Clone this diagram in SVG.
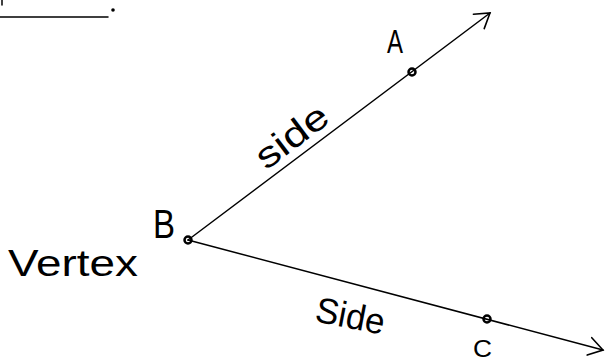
<svg xmlns="http://www.w3.org/2000/svg" width="605" height="364" viewBox="0 0 605 364">
  <style>
    .ln { stroke:#000; stroke-width:1.5; fill:none; stroke-linecap:round; }
    .pt { stroke:#000; stroke-width:2.5; fill:none; }
    .t { font-family:"Liberation Sans", Arial, sans-serif; fill:#000; }
  </style>
  <defs>
    <marker id="arr" markerUnits="userSpaceOnUse" markerWidth="40" markerHeight="40" viewBox="0 0 40 40" refX="20" refY="20" orient="auto">
      <path d="M6,11 L20,20 L6,29" fill="none" stroke="#000" stroke-width="1.6" stroke-linecap="round"/>
    </marker>
  </defs>
  <rect width="605" height="364" fill="#fff"/>

  <g id="header-fragment">
    <line class="ln" x1="0" y1="17" x2="108" y2="17"/>
    <line class="ln" x1="2" y1="0" x2="2" y2="5"/>
    <circle cx="113" cy="10" r="1.8" fill="#000"/>
  </g>

  <g id="connectors">
    <line id="ray-BA" class="ln" x1="188" y1="240" x2="490" y2="13" marker-end="url(#arr)"/>
    <line id="ray-BC" class="ln" x1="188" y1="240" x2="603" y2="350" marker-end="url(#arr)"/>
    <text class="t" font-size="36" text-anchor="middle" textLength="82" lengthAdjust="spacingAndGlyphs" transform="translate(299,146) rotate(-37)">side</text>
    <text class="t" font-size="36" text-anchor="middle" textLength="70" lengthAdjust="spacingAndGlyphs" transform="translate(348,328) rotate(11)">Side</text>
  </g>

  <g id="node-B">
    <circle class="pt" cx="188" cy="240" r="3.5"/>
    <text class="t" x="153" y="238" font-size="40" textLength="22" lengthAdjust="spacingAndGlyphs">B</text>
    <text class="t" x="8" y="276" font-size="36" textLength="130" lengthAdjust="spacingAndGlyphs">Vertex</text>
  </g>

  <g id="node-A">
    <circle class="pt" cx="412" cy="72" r="3.5"/>
    <text class="t" x="387" y="53" font-size="34" textLength="16" lengthAdjust="spacingAndGlyphs">A</text>
  </g>

  <g id="node-C">
    <circle class="pt" cx="487" cy="319" r="3.5"/>
    <text class="t" x="473" y="357" font-size="24" textLength="19" lengthAdjust="spacingAndGlyphs">C</text>
  </g>
</svg>
